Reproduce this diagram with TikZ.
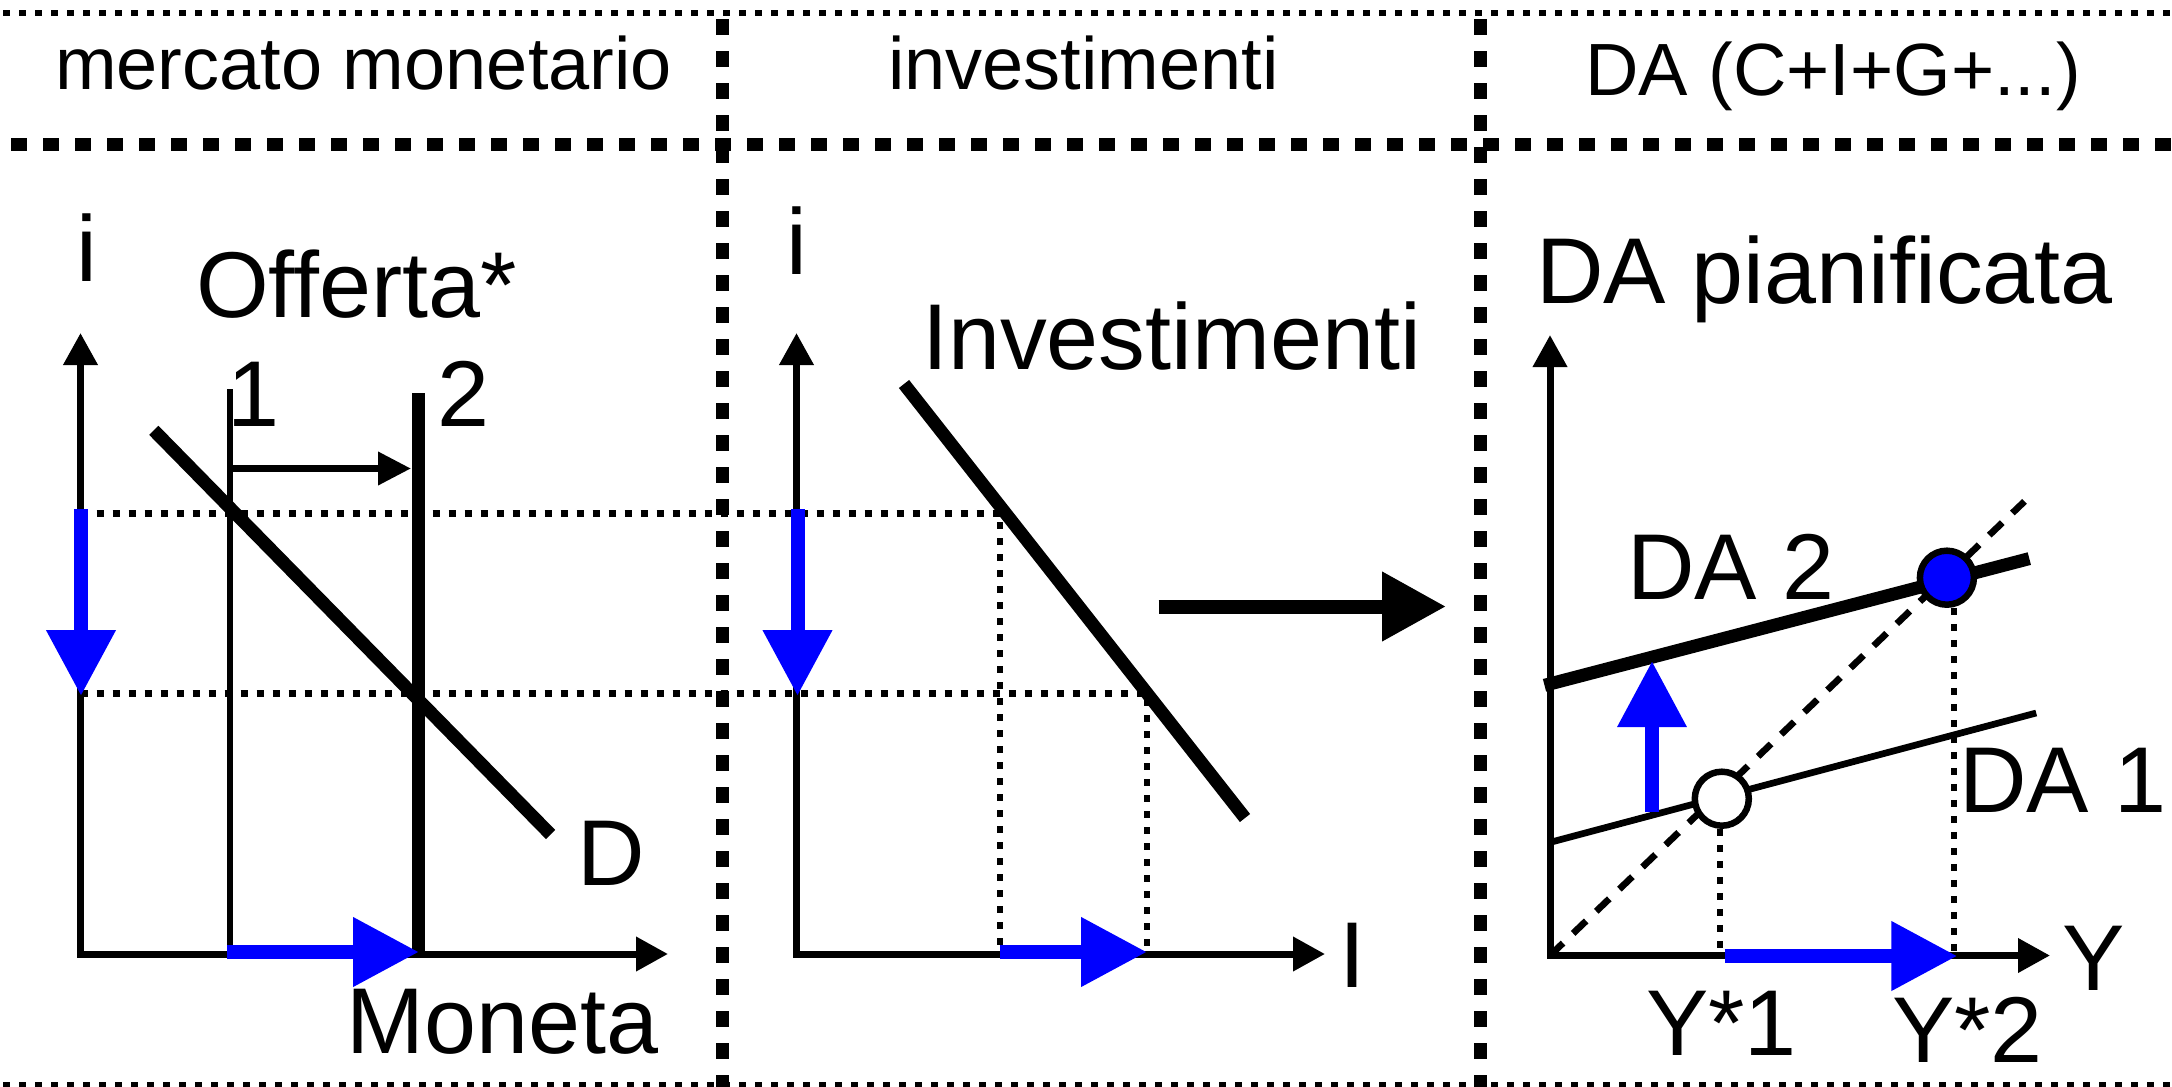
\documentclass[tikz,border=0pt]{standalone}
\usepackage{fontspec}
\setmainfont{Liberation Sans}
\usetikzlibrary{arrows.meta}
\begin{document}
\begin{tikzpicture}[x=1pt,y=-1pt,
  thindot/.style={line width=6.7pt, dash pattern=on 7pt off 9pt},
  thickdot/.style={line width=13pt, dash pattern=on 16pt off 16pt},
  axis/.style={line width=7pt, {Triangle[length=32pt,width=33pt]}-{Triangle[length=32pt,width=33pt]}},
  heavy/.style={line width=13pt},
  light/.style={line width=6.7pt},
  shiftarrow/.style={line width=7pt, -{Triangle[length=33pt,width=32pt]}},
  bluearrow/.style={blue, line width=14pt, -{Triangle[length=66pt,width=66pt]}},
  bigarrow/.style={line width=14pt, -{Triangle[length=64pt,width=66pt]}},
  diag/.style={line width=6.7pt, dash pattern=on 18pt off 14pt},
  eq/.style={circle, draw=black, line width=6.5pt, minimum size=54pt, inner sep=0pt},
  hdr/.style={inner sep=0pt, anchor=base west, font=\fontsize{74pt}{80pt}\selectfont},
  big/.style={inner sep=0pt, anchor=base west, font=\fontsize{93.5pt}{100pt}\selectfont},
  bigc/.style={inner sep=0pt, anchor=base, font=\fontsize{93.5pt}{100pt}\selectfont},
]
\fill[white] (0,0) rectangle (2172,1087);
\useasboundingbox (0,0) rectangle (2172,1087);

% header frame
\draw[thindot] (3.3,13) -- (2172,13);
\draw[thindot] (3.3,1085) -- (2172,1085);
\draw[thickdot] (11,144.5) -- (2172,144.5);
\draw[thickdot] (722.5,19) -- (722.5,1100);
\draw[thickdot] (1480.8,19) -- (1480.8,1100);

\node[hdr] (h1) at (55,89) {mercato monetario};
\node[hdr] (h2) at (888,89) {investimenti};
\node[hdr] (h3) at (1585,95) {DA (C+I+G+...)};

% ---------- left panel: money market
\coordinate (L0) at (80.5,954);
\coordinate (Ly) at (80.5,333);
\coordinate (Lx) at (668,954);
\coordinate (S1t) at (230,389);
\coordinate (S1b) at (230,954);
\coordinate (S2t) at (418.5,393);
\coordinate (S2b) at (418.5,954);
\coordinate (Sa) at (230,468.5);
\coordinate (Sb) at (411,468.5);
\coordinate (Dt) at (153.8,430.3);
\coordinate (Db) at (550.6,834.5);

% guide lines
\coordinate (G1a) at (80.5,513.5);
\coordinate (G1b) at (1000,513.5);
\coordinate (G1c) at (1000,954);
\coordinate (G2a) at (80.5,693.5);
\coordinate (G2b) at (1147,693.5);
\coordinate (G2c) at (1147,954);
\draw[thindot] (G1a) -- (G1b) -- (G1c);
\draw[thindot] (G2a) -- (G2b) -- (G2c);

\draw[axis] (Ly) -- (L0) -- (Lx);
\draw[light] (S1t) -- (S1b);
\draw[heavy] (S2t) -- (S2b);
\draw[shiftarrow] (Sa) -- (Sb);
\draw[heavy] (Dt) -- (Db);

\coordinate (BLa) at (81,509);
\coordinate (BLb) at (81,696);
\coordinate (BLc) at (227,952);
\coordinate (BLd) at (419,952);
\draw[bluearrow] (BLa) -- (BLb);
\draw[bluearrow] (BLc) -- (BLd);

\node[bigc] (il) at (87,281) {i};
\node[big] (off) at (196,317.5) {Offerta*};
\node[bigc] (n1) at (253,426) {1};
\node[bigc] (n2) at (463,426) {2};
\node[big] (dl) at (577,885) {D};
\node[big] (mon) at (346,1053) {Moneta};

% ---------- middle panel: investment
\coordinate (M0) at (796.5,954);
\coordinate (My) at (796.5,333);
\coordinate (Mx) at (1325,954);
\draw[axis] (My) -- (M0) -- (Mx);
\coordinate (It) at (904,384);
\coordinate (Ib) at (1245,818);
\draw[heavy] (It) -- (Ib);

\coordinate (BMa) at (797.5,509);
\coordinate (BMb) at (797.5,696);
\coordinate (BMc) at (1000,952);
\coordinate (BMd) at (1147,952);
\draw[bluearrow] (BMa) -- (BMb);
\draw[bluearrow] (BMc) -- (BMd);

\node[bigc] (im) at (796.5,274) {i};
\node[big] (inv) at (922,369) {Investimenti};
\node[bigc] (Il) at (1352,987) {I};

\coordinate (Ka) at (1158.7,606.5);
\coordinate (Kb) at (1446,606.5);
\draw[bigarrow] (Ka) -- (Kb);

% ---------- right panel: aggregate demand
\coordinate (R0) at (1550,955.5);
\coordinate (Ry) at (1550,335);
\coordinate (Rx) at (2050,955.5);
\coordinate (A1a) at (1551.4,842);
\coordinate (A1b) at (2036.2,713);
\coordinate (A2a) at (1544.5,685.3);
\coordinate (A2b) at (2029.3,558.6);
\coordinate (Qt) at (2024.5,501.4);

\draw[diag] (R0) -- (Qt);
\draw[axis] (Ry) -- (R0) -- (Rx);
\draw[light] (A1a) -- (A1b);
\draw[heavy] (A2a) -- (A2b);

\node[eq, fill=white] (E1) at (1721.8,798.7) {};
\node[eq, fill=blue] (E2) at (1946.9,577.7) {};

\coordinate (Y1) at (1720,955.5);
\coordinate (Y2) at (1954,955.5);
\draw[thindot] (Y1 |- E1.south) -- (Y1);
\draw[thindot] (Y2 |- E2.south) -- (Y2);

\coordinate (BRa) at (1652,812);
\coordinate (BRb) at (1652,661);
\coordinate (BRc) at (1724.6,956);
\coordinate (BRd) at (1957.3,956);
\draw[bluearrow, line width=13.3pt] (BRa) -- (BRb);
\draw[bluearrow] (BRc) -- (BRd);

\node[big] (dap) at (1536,303.6) {DA pianificata};
\node[big] (da2) at (1627,599) {DA 2};
\node[big] (da1) at (1959,812) {DA 1};
\node[bigc] (yl) at (2093.5,990.6) {Y};
\node[big] (ys1) at (1646,1055) {Y*1};
\node[big] (ys2) at (1892,1062) {Y*2};
\end{tikzpicture}
\end{document}
